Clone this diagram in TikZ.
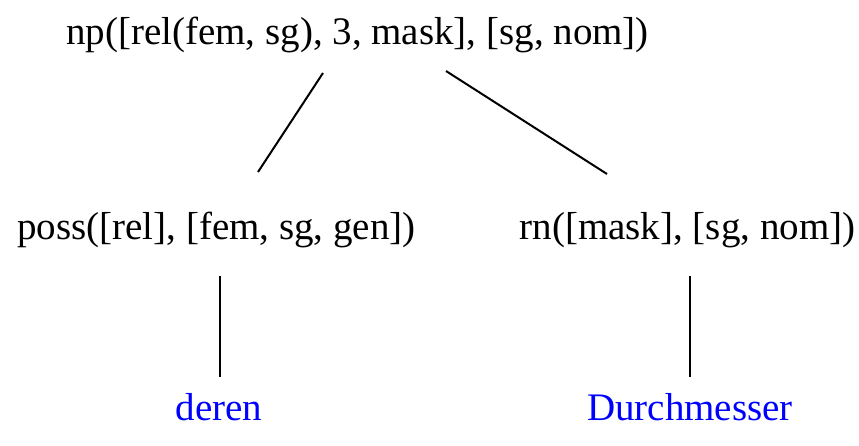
\documentclass[tikz,border=0pt]{standalone}
\usepackage{fontspec}
\setmainfont{Liberation Serif}
\begin{document}
\begin{tikzpicture}[x=1pt,y=-1pt,
  lbl/.style={inner sep=0pt, anchor=base, font=\fontsize{39}{44}\selectfont},
  leaf/.style={lbl, text=blue},
  edge/.style={line width=2pt}]
\useasboundingbox (0,0) rectangle (859,445);
\node[lbl] (np) at (357.5,44) {np([rel(fem, sg), 3, mask], [sg, nom])};
\node[lbl] (poss) at (216.5,239.5) {poss([rel], [fem, sg, gen])};
\node[lbl] (rn) at (687.5,239.5) {rn([mask], [sg, nom])};
\node[leaf] (deren) at (219,420) {deren};
\node[leaf] (durch) at (690,420) {Durchmesser};
\coordinate (e1a) at (323,73);
\coordinate (e1b) at (258,172);
\coordinate (e2a) at (446,71);
\coordinate (e2b) at (607,174);
\coordinate (e3a) at (220,276);
\coordinate (e3b) at (220,377);
\coordinate (e4a) at (690,276);
\coordinate (e4b) at (690,377);
\draw[edge] (e1a) -- (e1b);
\draw[edge] (e2a) -- (e2b);
\draw[edge] (e3a) -- (e3b);
\draw[edge] (e4a) -- (e4b);
\end{tikzpicture}
\end{document}
